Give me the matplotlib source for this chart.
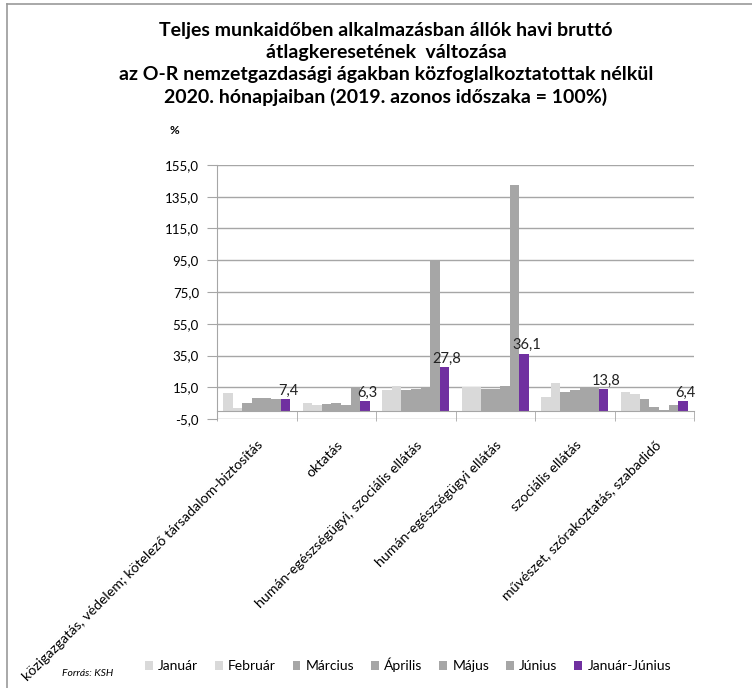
import matplotlib
matplotlib.use("Agg")
import matplotlib.pyplot as plt
from matplotlib.lines import Line2D
from matplotlib.patches import Patch
import numpy as np

plt.rcParams['font.family'] = ['Lato', 'DejaVu Sans']

categories = [
    "közigazgatás, védelem; kötelező társadalom-biztosítás",
    "oktatás",
    "humán-egészségügyi, szociális ellátás",
    "humán-egészségügyi ellátás",
    "szociális ellátás",
    "művészet, szórakoztatás, szabadidő",
]
series_names = ["Január", "Február", "Március", "Április", "Május", "Június", "Január-Június"]
januar = [11.1, 5.2, 13.2, 14.9, 8.8, 11.9]
februar = [2.1, 3.6, 15.5, 14.9, 17.8, 10.9]
marcius = [5.2, 4.6, 13.2, 13.8, 11.9, 7.7]
aprilis = [8.2, 5.2, 13.8, 14.2, 13.0, 2.5]
majus = [8.2, 3.6, 14.9, 15.7, 14.6, 0.4]
junius = [7.8, 14.5, 94.8, 142.5, 14.6, 3.6]
januar_junius = [7.4, 6.3, 27.8, 36.1, 13.8, 6.4]
yticks = [-5, 15, 35, 55, 75, 95, 115, 135, 155]

series = [januar, februar, marcius, aprilis, majus, junius, januar_junius]
colors = ["#D9D9D9", "#D9D9D9", "#A6A6A6", "#A6A6A6", "#A6A6A6", "#A6A6A6", "#7030A0"]

W, H = 752, 688
fig = plt.figure(figsize=(W / 100, H / 100), dpi=100)
ax = fig.add_axes([217 / W, 1 - 419 / H, (694 - 217) / W, (419 - 165) / H])

n = len(series)
x = np.arange(len(categories))
group = 0.84
bw = group / n
for i, (vals, col) in enumerate(zip(series, colors)):
    pos = x - group / 2 + bw * (i + 0.5)
    ax.bar(pos, vals, width=bw, color=col, edgecolor='none', zorder=3, label=series_names[i])
    if i == n - 1:
        for px, v in zip(pos, vals):
            ax.annotate(f"{v:.1f}".replace('.', ','), (px, v), xytext=(2, 1),
                        textcoords='offset points', ha='center', va='bottom',
                        fontsize=10.5, color='#222222', zorder=4)

ax.set_xlim(-0.5, len(categories) - 0.5)
ax.set_ylim(-5, 155)
ax.set_yticks(yticks)
ax.set_yticklabels([f"{t:.1f}".replace('.', ',') for t in yticks], fontsize=9.5)
ax.yaxis.grid(True, color='#A6A6A6', linewidth=1.0, zorder=0)
ax.set_axisbelow(True)
ax.tick_params(axis='y', direction='out', length=7, color='#A6A6A6', pad=6)

for s in ['top', 'right']:
    ax.spines[s].set_visible(False)
ax.spines['left'].set_color('#A6A6A6')
ax.spines['bottom'].set_position(('data', 0))
ax.spines['bottom'].set_color('#A6A6A6')
ax.spines['bottom'].set_zorder(5)

ax.set_xticks(x)
ax.set_xticks(np.arange(len(categories) + 1) - 0.5, minor=True)
ax.tick_params(axis='x', which='major', length=0, pad=20)
ax.tick_params(axis='x', which='minor', length=7, color='#A6A6A6', direction='out')
ax.set_xticklabels(categories, rotation=45, ha='right', va='top',
                   rotation_mode='anchor', fontsize=10.2)

fig.text(386 / W, 1 - 64 / H,
         "Teljes munkaidőben alkalmazásban állók havi bruttó\n"
         "átlagkeresetének  változása\n"
         "az O-R nemzetgazdasági ágakban közfoglalkoztatottak nélkül\n"
         "2020. hónapjaiban (2019. azonos időszaka = 100%)",
         ha='center', va='center', fontsize=14, fontweight='bold',
         linespacing=1.36)
fig.text(174 / W, 1 - 130 / H, "%", ha='center', va='center', fontsize=8.5, fontweight='bold')
fig.text(62 / W, 1 - 673 / H, "Forrás: KSH", ha='left', va='center', fontsize=7.5, style='italic')

handles = [Patch(facecolor=c, edgecolor='none') for c in colors]
fig.legend(handles, series_names, loc='center', bbox_to_anchor=(408 / W, 1 - 665 / H),
           ncol=7, frameon=False, fontsize=10, handlelength=0.55, handleheight=0.55,
           handletextpad=0.4, columnspacing=1.2, borderaxespad=0)

# outer chart frame (left and top edges visible)
fig.add_artist(Line2D([6.5 / W, 6.5 / W], [0, 1 - 4.3 / H], transform=fig.transFigure,
                      color='#999999', linewidth=1.2))
fig.add_artist(Line2D([6.5 / W, 1], [1 - 4.3 / H, 1 - 4.3 / H], transform=fig.transFigure,
                      color='#999999', linewidth=1.2))

fig.savefig("out.png", dpi=100, facecolor='white')
